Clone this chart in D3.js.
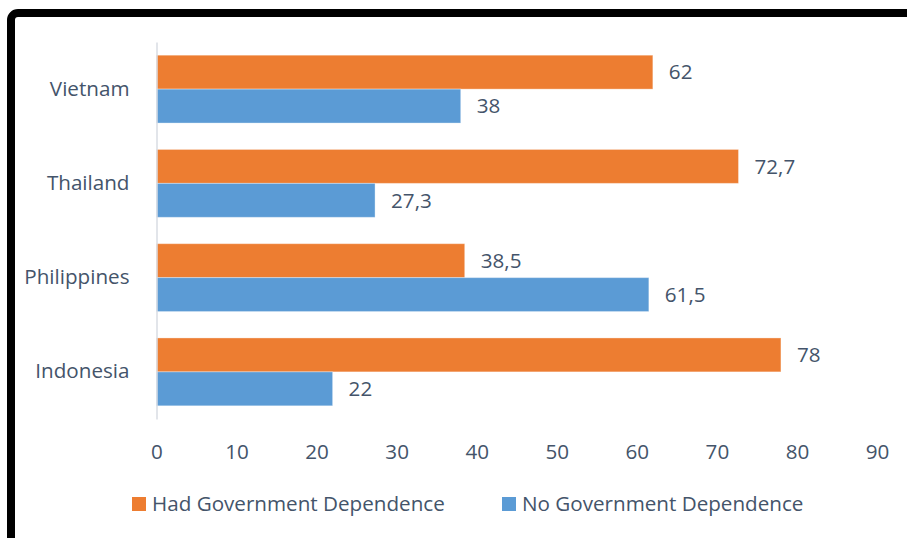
<!DOCTYPE html>
<html>
<head>
<meta charset="utf-8">
<script src="https://cdn.jsdelivr.net/npm/d3@7"></script>
<style>
  html, body { margin: 0; padding: 0; background: #fff; }
  svg { display: block; }
</style>
</head>
<body>
<svg id="chart" width="907" height="538"></svg>
<script>
const categories = ["Vietnam", "Thailand", "Philippines", "Indonesia"];
const seriesNames = ["Had Government Dependence", "No Government Dependence"];
const hadGov = [62, 72.7, 38.5, 78];
const noGov = [38, 27.3, 61.5, 22];
const xTicks = [0, 10, 20, 30, 40, 50, 60, 70, 80, 90];
const colors = ["#ED7D31", "#5B9BD5"];
const textColor = "#44546A";
const fontFamily = "'Open Sans', 'Noto Sans', sans-serif";

const svg = d3.select("#chart");

// frame (black border, top & left visible)
svg.append("rect")
  .attr("x", 11).attr("y", 13)
  .attr("width", 1000).attr("height", 700)
  .attr("rx", 7)
  .attr("fill", "none").attr("stroke", "#000").attr("stroke-width", 8);

// measure a font size to match legend text width
const probe = svg.append("text").attr("font-family", fontFamily).attr("font-size", 100).text(seriesNames[0]);
const w100 = probe.node().getComputedTextLength();
probe.remove();
const fs = Math.min(21, 100 * 293 / w100);

const x = d3.scaleLinear().domain([0, 90]).range([156.5, 877]);
const y = d3.scaleBand().domain(categories).range([42, 419]).paddingInner(0.28).paddingOuter(0.14);
const ySub = d3.scaleBand().domain([0, 1]).range([0, y.bandwidth()]);

const fmt = v => String(v).replace(".", ",");

// bars
const series = [hadGov, noGov];
series.forEach((vals, si) => {
  const g = svg.append("g");
  g.selectAll("rect").data(vals).join("rect")
    .attr("x", x(0))
    .attr("y", (d, i) => y(categories[i]) + ySub(si))
    .attr("width", d => x(d) - x(0))
    .attr("height", ySub.bandwidth())
    .attr("fill", colors[si])
    .attr("stroke", "#fff").attr("stroke-opacity", 0.35).attr("stroke-width", 1);
  g.selectAll("text").data(vals).join("text")
    .attr("x", d => x(d) + 16)
    .attr("y", (d, i) => y(categories[i]) + ySub(si) + ySub.bandwidth() / 2)
    .attr("dy", "0.35em")
    .attr("font-family", fontFamily).attr("font-size", fs)
    .attr("fill", textColor)
    .text(d => fmt(d));
});

// y axis line
const yAxis = d3.axisLeft(y).tickSize(0).tickPadding(27);
const yg = svg.append("g").attr("transform", `translate(${x(0)},0)`).call(yAxis);
yg.select(".domain").attr("stroke", "#D9DCE3").attr("stroke-width", 1.5);
yg.selectAll("text").attr("font-family", fontFamily).attr("font-size", fs).attr("fill", textColor);

// x axis labels only
const xAxis = d3.axisBottom(x).tickValues(xTicks).tickSize(0).tickPadding(0).tickFormat(d3.format("d"));
const xg = svg.append("g").attr("transform", `translate(0,${444})`).call(xAxis);
xg.select(".domain").remove();
xg.selectAll("text").attr("font-family", fontFamily).attr("font-size", fs).attr("fill", textColor).attr("dy", "0.71em");

// legend
const legendX = [132, 502];
seriesNames.forEach((name, i) => {
  const g = svg.append("g").attr("transform", `translate(${legendX[i]},497)`);
  g.append("rect").attr("width", 14).attr("height", 14).attr("fill", colors[i]);
  g.append("text").attr("x", 20).attr("y", 7).attr("dy", "0.35em")
    .attr("font-family", fontFamily).attr("font-size", fs).attr("fill", textColor).text(name);
});
</script>
</body>
</html>
